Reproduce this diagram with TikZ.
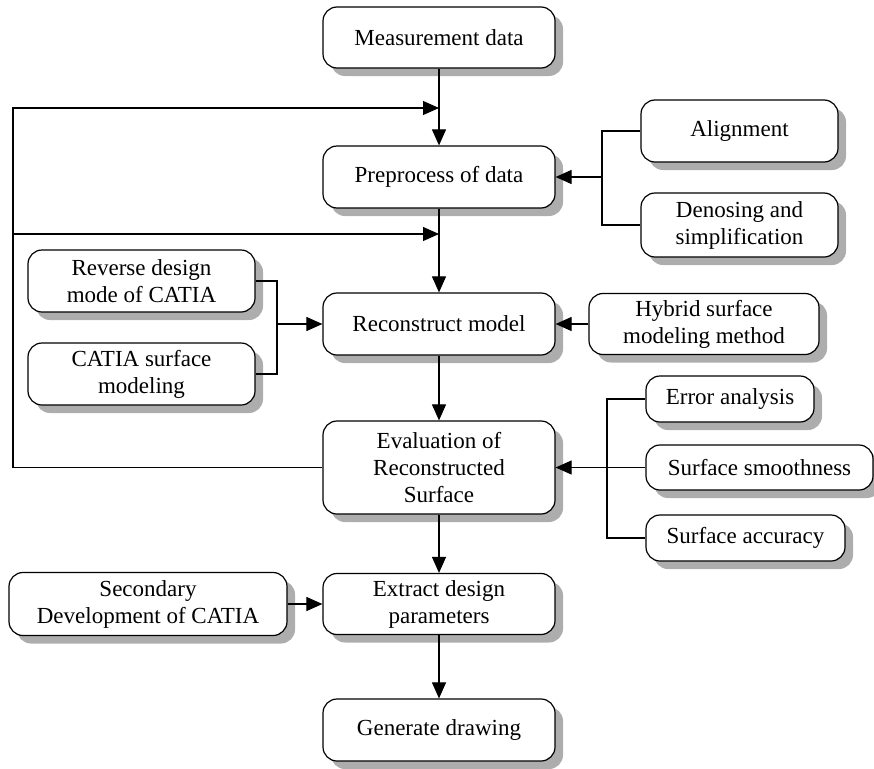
\documentclass[tikz,border=0pt]{standalone}
\usepackage{fontspec}
\setmainfont{Liberation Serif}
\usepackage{tikz}
\usetikzlibrary{arrows.meta,shadows}

\begin{document}
\begin{tikzpicture}[
  x=1pt, y=-1pt,
  block/.style={draw, line width=1.2pt, rounded corners=14pt, fill=white,
    inner sep=0pt, align=center, font=\fontsize{23}{27}\selectfont,
    drop shadow={shadow xshift=8pt, shadow yshift=-8pt, fill=black!32, opacity=1}},
  arr/.style={-{Triangle[length=16pt, width=14pt]}, line width=1.1pt},
  link/.style={line width=1.1pt},
]
\useasboundingbox (0,0) rectangle (874,768);

% main column
\node[block, minimum width=232pt, minimum height=61pt] (meas) at (439,37.5) {Measurement data};
\node[block, minimum width=232pt, minimum height=62pt] (prep) at (439,177) {Preprocess of data};
\node[block, minimum width=232pt, minimum height=62pt] (recon) at (439,324) {Reconstruct model};
\node[block, minimum width=232pt, minimum height=93pt] (eval) at (439,467.5) {Evaluation of\\Reconstructed\\Surface};
\node[block, minimum width=232pt, minimum height=61pt] (extr) at (439,604) {Extract design\\parameters};
\node[block, minimum width=232pt, minimum height=62pt] (gen) at (439,730) {Generate drawing};

% right side
\node[block, minimum width=197pt, minimum height=62pt] (align) at (739.5,131) {Alignment};
\node[block, minimum width=197pt, minimum height=64pt] (denos) at (739.5,225) {Denosing and\\simplification};
\node[block, minimum width=230pt, minimum height=61pt] (hybrid) at (704,324) {Hybrid surface\\modeling method};
\node[block, minimum width=168pt, minimum height=46pt] (err) at (730,399) {Error analysis};
\node[block, minimum width=227pt, minimum height=45pt] (smooth) at (759.5,467.5) {Surface smoothness};
\node[block, minimum width=199pt, minimum height=46pt] (acc) at (745.5,538) {Surface accuracy};

% left side
\node[block, minimum width=227pt, minimum height=62pt] (rev) at (141.5,281) {Reverse design\\mode of CATIA};
\node[block, minimum width=227pt, minimum height=62pt] (cat) at (141.5,374) {CATIA surface\\modeling};
\node[block, minimum width=278pt, minimum height=63pt] (sec) at (148,604) {Secondary\\Development of CATIA};

% junctions
\coordinate (fbtop) at (439,108);
\coordinate (fbmid) at (439,234);
\coordinate (fbl) at (13,0);
\coordinate (ja) at (602,177);
\coordinate (jr) at (277,324);
\coordinate (je) at (607,467.5);

% main flow
\draw[arr] (meas) -- (prep);
\draw[arr] (prep) -- (recon);
\draw[arr] (recon) -- (eval);
\draw[arr] (eval) -- (extr);
\draw[arr] (extr) -- (gen);

% feedback
\draw[arr] (eval.west) -| (fbl |- fbtop) -- (fbtop);
\draw[arr] (fbl |- fbmid) -- (fbmid);

% inputs
\draw[link] (align.west) -| (ja) |- (denos.west);
\draw[arr] (ja) -- (prep.east);
\draw[link] (rev.east) -| (jr) |- (cat.east);
\draw[arr] (jr) -- (recon.west);
\draw[arr] (hybrid) -- (recon);
\draw[link] (err.west) -| (je) |- (acc.west);
\draw[arr] (smooth.west) -- (eval.east);
\draw[arr] (sec) -- (extr);
\end{tikzpicture}
\end{document}
